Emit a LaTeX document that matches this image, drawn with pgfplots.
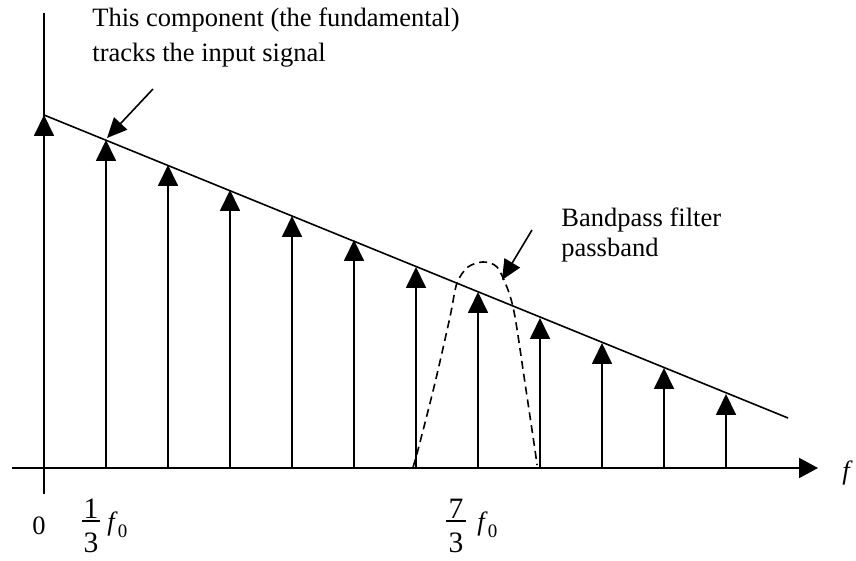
\documentclass[border=0pt]{standalone}
\usepackage{fontspec}
\setmainfont{Liberation Serif}
\usepackage{pgfplots}
\pgfplotsset{compat=1.18}
\usetikzlibrary{arrows.meta}
\newcommand\fsub{\raisebox{-3.5bp}{\fontsize{9.5bp}{9.5bp}\selectfont 0}}
\begin{document}
\fontsize{13.25bp}{16bp}\selectfont
\begin{tikzpicture}[txt/.style={inner sep=0pt, font=\fontsize{13.25bp}{16bp}\selectfont},
  dig/.style={inner sep=0pt, font=\fontsize{14.8bp}{16bp}\selectfont}]
\begin{axis}[scale only axis, width=428bp, height=280.5bp,
  xmin=-0.70968, xmax=13.09677, ymin=-93, ymax=468,
  hide axis, clip=false]
% axes
\draw[line width=1bp, -{Triangle[length=9.5bp,width=10bp]}] (axis cs:-0.516,0) -- (axis cs:12.484,0);
\draw[line width=0.9bp] (axis cs:0,-26) -- (axis cs:0,455);
% spectral lines
\addplot[black, line width=0.9bp, quiver={u=0, v=\thisrow{v}},
  -{Triangle[length=10.5bp,width=10bp]}] table {
x y v
0 0 353
1 0 328
2 0 303
3 0 278
4 0 252
5 0 228
6 0 201
7 0 176
8 0 150
9 0 125
10 0 100
11 0 74
};
% envelope
\addplot[black, line width=0.8bp] coordinates {(0,353) (12,50)};
% bandpass
\addplot[black, line width=0.8bp, smooth, dash pattern=on 4bp off 2.5bp] coordinates {
(5.952,1) (6.032,18) (6.306,85) (6.548,151) (6.661,185) (6.839,201) (7.081,206)
(7.306,201) (7.484,178) (7.597,151) (7.758,85) (7.919,18) (7.952,3)};
% annotation arrows
\draw[line width=0.8bp, -{Triangle[length=10bp,width=9bp]}] (axis cs:1.758,379) -- (axis cs:1.016,330);
\draw[line width=0.8bp, -{Triangle[length=10bp,width=9bp]}] (axis cs:7.871,238) -- (axis cs:7.387,188);
% texts
\node[txt, anchor=base west] at (axis cs:0.774,441) {This component (the fundamental)};
\node[txt, anchor=base west] at (axis cs:0.774,406) {tracks the input signal};
\node[txt, anchor=base west] at (axis cs:8.339,241) {Bandpass filter};
\node[txt, anchor=base west] at (axis cs:8.339,211) {passband};
\node[txt, anchor=base] at (axis cs:-0.081,-66) {0};
\node[dig, anchor=base] at (axis cs:0.758,-50) {1};
\draw[line width=0.6bp] (axis cs:0.613,-53) -- (axis cs:0.903,-53);
\node[dig, anchor=base] at (axis cs:0.758,-84) {3};
\node[txt, anchor=base west] at (axis cs:1.016,-62) {\textit{f}\fsub};
\node[dig, anchor=base] at (axis cs:6.645,-50) {7};
\draw[line width=0.6bp] (axis cs:6.484,-53) -- (axis cs:6.806,-53);
\node[dig, anchor=base] at (axis cs:6.645,-84) {3};
\node[txt, anchor=base west] at (axis cs:6.984,-62) {\textit{f}\fsub};
\node[txt, anchor=base west] at (axis cs:12.87,-12) {\textit{f}};
\end{axis}
\pgfresetboundingbox
\path (current axis.south west) rectangle (current axis.north east);
\end{tikzpicture}
\end{document}
